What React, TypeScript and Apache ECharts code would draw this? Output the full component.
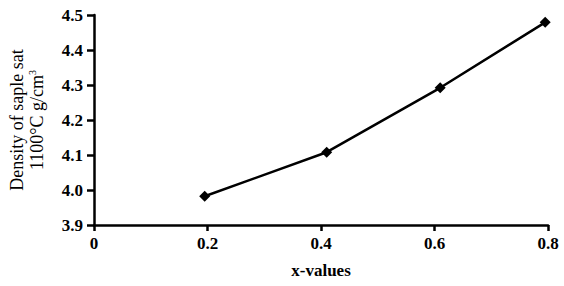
import React, { useEffect, useRef } from "react";
import * as echarts from "echarts";

const xValues = [0.195, 0.41, 0.61, 0.795];
const densities = [3.982, 4.108, 4.292, 4.479];
const xTickMin = 0;
const xTickMax = 0.8;
const xTickStep = 0.2;
const yTickMin = 3.9;
const yTickMax = 4.5;
const yTickStep = 0.1;
const xTitle = "x-values";
const yTitleLine1 = "Density of saple sat";
const yTitleLine2 = "1100°C g/cm";

const FONT = "'Liberation Serif', 'Times New Roman', serif";

export default function App() {
  const ref = useRef<HTMLDivElement>(null);
  useEffect(() => {
    document.body.style.margin = "0";
    const chart = echarts.init(ref.current!, null, { renderer: "svg" });
    const axisLine = { show: true, lineStyle: { color: "#000", width: 2.5 } };
    chart.setOption({
      animation: false,
      backgroundColor: "#fff",
      grid: { left: 93, right: 16, top: 15, bottom: 61, containLabel: false },
      xAxis: {
        type: "value",
        min: xTickMin,
        max: xTickMax,
        interval: xTickStep,
        name: xTitle,
        nameLocation: "middle",
        nameGap: 37,
        nameTextStyle: { fontFamily: FONT, fontSize: 17, color: "#000", fontWeight: "bold" },
        axisLine,
        axisTick: { show: true, inside: false, length: 6, lineStyle: { color: "#000", width: 2.5 } },
        axisLabel: {
          margin: 10,
          fontFamily: FONT,
          fontSize: 17,
          fontWeight: "bold",
          color: "#000",
          formatter: (v: number) => (v === 0 ? "0" : v.toFixed(1)),
        },
        splitLine: { show: false },
      },
      yAxis: {
        type: "value",
        min: yTickMin,
        max: yTickMax,
        interval: yTickStep,
        name: `{a|${yTitleLine1}}\n{a|${yTitleLine2}}{sup|3}`,
        nameLocation: "middle",
        nameGap: 47,
        nameRotate: 90,
        nameTextStyle: {
          fontFamily: FONT,
          color: "#000",
          rich: {
            a: { fontFamily: FONT, fontSize: 18, color: "#000", lineHeight: 20 },
            sup: { fontFamily: FONT, fontSize: 10, color: "#000", verticalAlign: "top", lineHeight: 20, padding: [0, 0, 6, 0] },
          },
        },
        axisLine,
        axisTick: { show: true, inside: false, length: 7, lineStyle: { color: "#000", width: 2.5 } },
        axisLabel: {
          margin: 11,
          fontFamily: FONT,
          fontSize: 17,
          fontWeight: "bold",
          color: "#000",
          formatter: (v: number) => v.toFixed(1),
        },
        splitLine: { show: false },
      },
      series: [
        {
          type: "line",
          data: xValues.map((x, i) => [x, densities[i]]),
          symbol: "diamond",
          symbolSize: 11,
          lineStyle: { color: "#000", width: 2.5 },
          itemStyle: { color: "#000" },
        },
      ],
    });
    return () => chart.dispose();
  }, []);
  return <div ref={ref} style={{ position: "fixed", left: 0, top: 0, width: 564, height: 286 }} />;
}
